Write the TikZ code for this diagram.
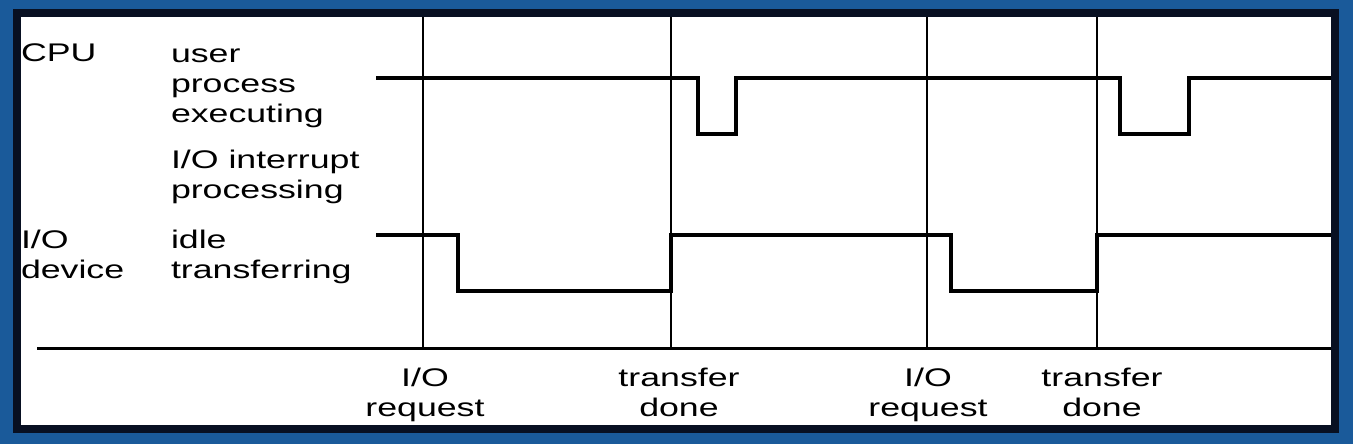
\documentclass[tikz,border=0pt]{standalone}
\usepackage{fontspec}
\setmainfont{Liberation Sans}[FakeStretch=1.4]
\definecolor{bgblue}{RGB}{26,90,154}
\definecolor{framedark}{RGB}{8,16,34}
\begin{document}
\begin{tikzpicture}[x=1pt,y=-1pt,
  lbl/.style={inner sep=0pt, outer sep=0pt, align=left, anchor=base west,
    font=\fontsize{25.5}{30}\selectfont},
  tlbl/.style={inner sep=0pt, outer sep=0pt, align=center, anchor=base,
    font=\fontsize{25.5}{29.5}\selectfont},
  signal/.style={line width=3.4pt, line join=miter},
  marker/.style={line width=2.4pt},
  axisline/.style={line width=3pt}]
\useasboundingbox (0,0) rectangle (1353,444);
\fill[bgblue] (0,0) rectangle (1353,444);
\draw[framedark, line width=8pt, fill=white] (17,13.5) rectangle (1335,429);

% time markers
\foreach \n/\x in {a/423, b/671, c/927, d/1097}{
  \coordinate (\n top) at (\x,17);
  \coordinate (\n bot) at (\x,348);
  \draw[marker] (\n top) -- (\n bot);
}

% time axis
\coordinate (axL) at (37,348);
\coordinate (axR) at (1331,348);
\draw[axisline] (axL) -- (axR);

% CPU signal
\coordinate (cpuS) at (376,78);
\coordinate (cpuE) at (1331,78);
\draw[signal] (cpuS) -- (698,78) -- (698,134) -- (736,134) -- (736,78)
  -- (1120,78) -- (1120,134) -- (1189,134) -- (1189,78) -- (cpuE);

% I/O device signal
\coordinate (ioS) at (376,235);
\coordinate (ioE) at (1331,235);
\draw[signal] (ioS) -- (458,235) -- (458,291) -- (671,291) -- (671,235)
  -- (951,235) -- (951,291) -- (1097,291) -- (1097,235) -- (ioE);

% labels (base anchor = baseline of the last line)
\node[lbl] (cpu) at (21,62) {CPU};
\node[lbl] (user) at (171,122) {user\\process\\executing};
\node[lbl] (intr) at (171,198) {I/O interrupt\\processing};
\node[lbl] (iodev) at (21,278) {I/O\\device};
\node[lbl] (idle) at (171,278) {idle\\transferring};

\node[tlbl] (req1) at (425,416) {I/O\\request};
\node[tlbl] (done1) at (679,416) {transfer\\done};
\node[tlbl] (req2) at (928,416) {I/O\\request};
\node[tlbl] (done2) at (1102,416) {transfer\\done};
\end{tikzpicture}
\end{document}
